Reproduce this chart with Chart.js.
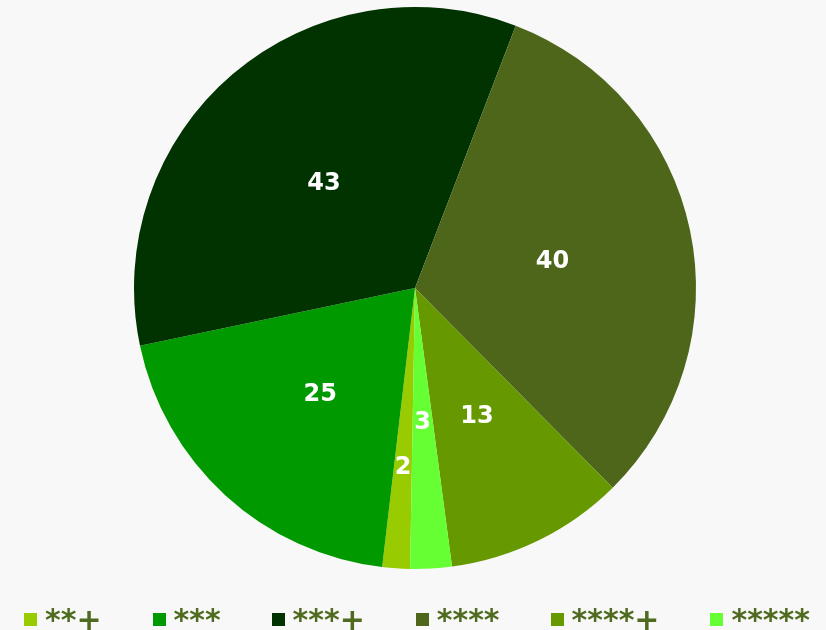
<!DOCTYPE html>
<html>
<head>
<meta charset="utf-8">
<script src="https://cdn.jsdelivr.net/npm/chart.js@4"></script>
<style>
    html, body { margin: 0; padding: 0; background: #f8f8f8; overflow: hidden; }
    #wrap { width: 826px; height: 630px; position: relative; }
    #legend {
        position: absolute; left: 24px; top: 598px;
        display: flex; align-items: flex-start;
        font-family: "DejaVu Sans", sans-serif; font-weight: bold; color: #4f6b1f;
        white-space: nowrap;
    }
    .item { display: flex; align-items: flex-start; margin-right: 51px; }
    .box { width: 13px; height: 13px; margin-top: 15px; margin-right: 8px; }
    .txt { font-size: 30px; line-height: 36px; position: relative; top: 4px; }
</style>
</head>
<body>
<div id="wrap"><canvas id="chart"></canvas><div id="legend"></div></div>
<script>
// Chart data
const categories = ['**+', '***', '***+', '****', '****+', '*****'];
const counts = [2, 25, 43, 40, 13, 3];
const sliceColors = ['#99cc00', '#009900', '#003300', '#4d661a', '#669900', '#66ff33'];

/**
 * Draw the value of every slice inside it
 */
const sliceLabels = {
    id: 'sliceLabels',
    afterDatasetsDraw(chart, args, opts) {
        const { ctx } = chart;
        const meta = chart.getDatasetMeta(0);
        ctx.save();
        ctx.fillStyle = '#ffffff';
        ctx.font = 'bold 24px "DejaVu Sans"';
        ctx.textAlign = 'center';
        ctx.textBaseline = 'middle';
        meta.data.forEach((arc, i) => {
            const { x, y, startAngle, endAngle, outerRadius } = arc.getProps(['x', 'y', 'startAngle', 'endAngle', 'outerRadius'], true);
            const mid = (startAngle + endAngle) / 2;
            const f = (opts.radius && opts.radius[i]) || 0.5;
            ctx.fillText(String(counts[i]), x + Math.cos(mid) * outerRadius * f, y + Math.sin(mid) * outerRadius * f + 3);
        });
        ctx.restore();
    }
};

/**
 * Build the legend below the pie
 */
const renderLegend = () => {
    const legend = document.getElementById('legend');
    categories.forEach((name, i) => {
        const item = document.createElement('div');
        item.className = 'item';
        item.innerHTML = `<div class="box" style="background:${sliceColors[i]}"></div><div class="txt">${name}</div>`;
        legend.appendChild(item);
    });
};

new Chart(document.getElementById('chart'), {
    type: 'pie',
    data: {
        labels: categories,
        datasets: [{
            data: counts,
            backgroundColor: sliceColors,
            borderWidth: 0
        }]
    },
    options: {
        responsive: true,
        maintainAspectRatio: false,
        animation: false,
        rotation: 181,
        layout: { padding: { top: 7, bottom: 61, left: 4, right: 0 } },
        plugins: {
            legend: { display: false },
            tooltip: { enabled: false },
            sliceLabels: { radius: { 0: 0.63, 5: 0.47 } }
        }
    },
    plugins: [sliceLabels]
});

renderLegend();
</script>
</body>
</html>
